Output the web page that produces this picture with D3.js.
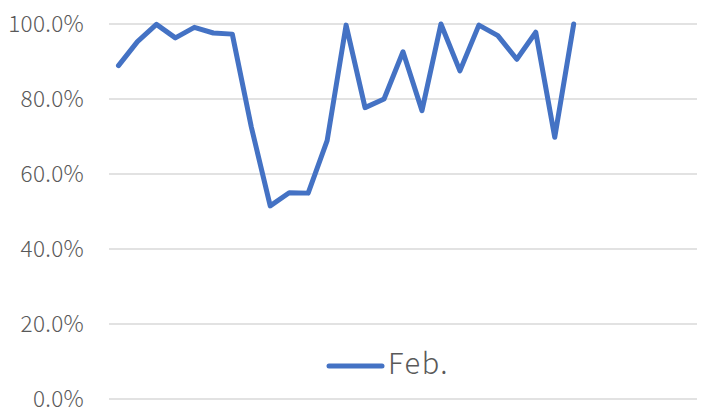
<!DOCTYPE html>
<html>
<head>
<meta charset="utf-8">
<script src="https://cdn.jsdelivr.net/npm/d3@7"></script>
<style>
body{margin:0;background:#fff;}
svg{display:block;}
text{font-family:"Noto Sans CJK JP","Noto Sans",sans-serif;fill:#595959;font-weight:300;}
</style>
</head>
<body>
<svg id="chart" width="704" height="411"></svg>
<script>
const categories = d3.range(1, 32).map(String);
const seriesName = "Feb.";
const values = [0.889, 0.953, 0.999, 0.963, 0.991, 0.976, 0.973, 0.726, 0.515, 0.550,
                0.549, 0.689, 0.997, 0.777, 0.800, 0.926, 0.769, 1.000, 0.875, 0.997,
                0.969, 0.906, 0.978, 0.698, 1.000];
const yTicks = [0, 0.2, 0.4, 0.6, 0.8, 1.0];

const svg = d3.select("#chart");
const plotLeft = 109, plotRight = 697, plotTop = 24, plotBottom = 399;

const x = d3.scaleBand().domain(categories).range([plotLeft, plotRight]);
const y = d3.scaleLinear().domain([0, 1]).range([plotBottom, plotTop]);

svg.append("g").selectAll("line").data(yTicks).join("line")
  .attr("x1", plotLeft).attr("x2", plotRight)
  .attr("y1", d => y(d)).attr("y2", d => y(d))
  .attr("stroke", "#d9d9d9").attr("stroke-width", 1.5);

const yAxis = d3.axisLeft(y).tickValues(yTicks).tickFormat(d3.format(".1%")).tickSize(0).tickPadding(0);
const ga = svg.append("g").attr("transform", `translate(84,0)`).call(yAxis);
ga.select(".domain").remove();
ga.selectAll("text").attr("font-size", 22.5).attr("fill", "#666666").attr("font-weight", 300)
  .attr("letter-spacing", 0.3)
  .attr("font-family", '"Noto Sans CJK JP","Noto Sans",sans-serif');

const line = d3.line()
  .x((d, i) => x(categories[i]) + x.bandwidth() / 2)
  .y(d => y(d));

svg.append("path").datum(values)
  .attr("d", line)
  .attr("fill", "none").attr("stroke", "#4472C4").attr("stroke-width", 5)
  .attr("stroke-linejoin", "round").attr("stroke-linecap", "round");

const lg = svg.append("g");
lg.append("line").attr("x1", 329).attr("x2", 382).attr("y1", 366).attr("y2", 366)
  .attr("stroke", "#4472C4").attr("stroke-width", 5).attr("stroke-linecap", "round");
lg.append("text").attr("x", 388).attr("y", 374).attr("font-size", 29).attr("letter-spacing", 1.5)
  .attr("fill", "#666666").text(seriesName);
</script>
</body>
</html>
